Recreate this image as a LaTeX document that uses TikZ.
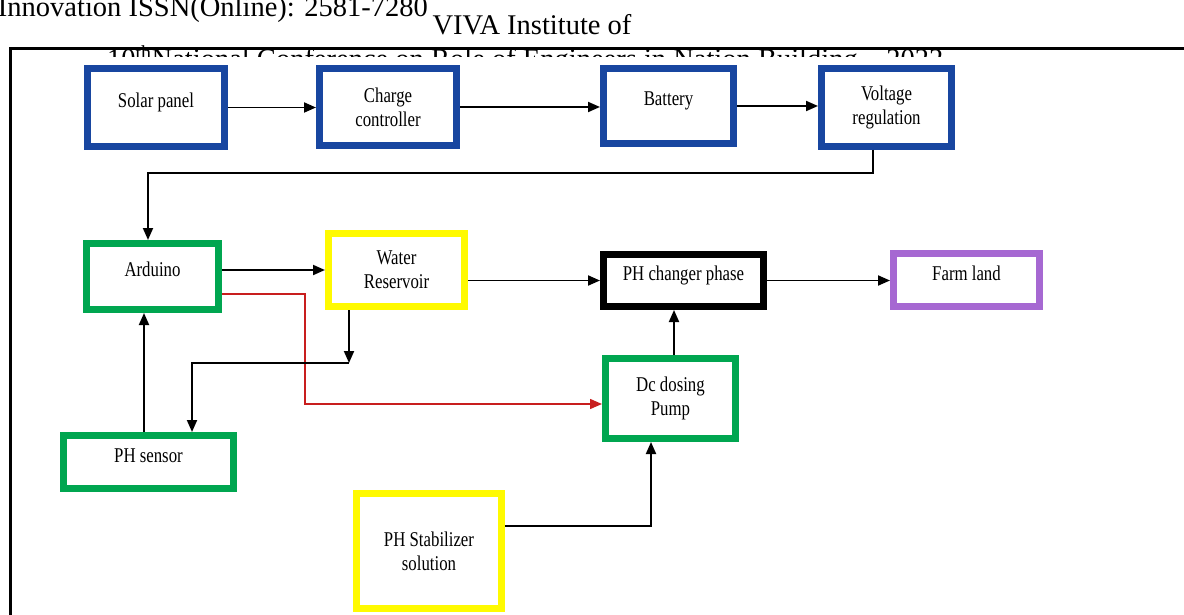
\documentclass[tikz,border=0pt]{standalone}
\usepackage{fontspec}
\setmainfont{Liberation Serif}
\newfontfamily\boxfont[FakeStretch=0.8]{Liberation Serif}
\usetikzlibrary{arrows.meta}
\definecolor{pvblue}{RGB}{24,70,160}
\definecolor{pvgreen}{RGB}{0,166,80}
\definecolor{pvyellow}{RGB}{255,250,0}
\definecolor{pvpurple}{RGB}{166,104,210}
\definecolor{pvred}{RGB}{200,30,30}

\begin{document}
\begin{tikzpicture}[x=1pt, y=-1pt,
  blk/.style={draw, line width=7pt, fill=white, inner sep=0pt,
    font=\boxfont\fontsize{21}{24}\selectfont},
  oneline/.style={text height=15pt, text depth=15pt},
  twoline/.style={align=center},
  arr/.style={-{Triangle[length=12pt,width=10pt]}, line width=1.9pt},
  hdr/.style={font=\fontsize{28.5}{30}\selectfont, inner sep=0pt}]
\useasboundingbox (0,0) rectangle (1184,615);
\clip (0,0) rectangle (1184,615);
% page header
\node[hdr, anchor=base east] (iss) at (428,17) {Innovation ISSN(Online): 2581-7280};
\node[hdr, anchor=base] (viva) at (532,35) {VIVA Institute of};
\begin{scope}
  \clip (12,40) rectangle (1184,57);
  \node[hdr, anchor=base west] (conf) at (107,69)
    {10\textsuperscript{th}National Conference on Role of Engineers in Nation Building – 2022};
\end{scope}
\draw[line width=3pt] (10.5,620) |- (1190,48.5);
% Top row: power supply
\node[blk, oneline, draw=pvblue, minimum width=137pt, minimum height=78pt]
  (sol) at (156,107.5) {Solar panel};
\node[blk, twoline, draw=pvblue, minimum width=137pt, minimum height=77pt]
  (chg) at (388,107) {Charge\\controller};
\node[blk, oneline, draw=pvblue, minimum width=130pt, minimum height=75pt]
  (bat) at (668.5,106) {Battery};
\node[blk, twoline, draw=pvblue, minimum width=130pt, minimum height=78pt]
  (vrg) at (886.5,107.5) {Voltage\\regulation};
% Middle row
\node[blk, oneline, draw=pvgreen, minimum width=132pt, minimum height=66pt]
  (ard) at (152.5,276.5) {Arduino};
\node[blk, twoline, draw=pvyellow, minimum width=136pt, minimum height=73pt]
  (wat) at (396.5,270) {Water\\Reservoir};
\node[blk, oneline, draw=black, minimum width=160pt, minimum height=52pt]
  (phc) at (683.5,280.5) {PH changer phase};
\node[blk, oneline, draw=pvpurple, minimum width=146pt, minimum height=53pt]
  (frm) at (966.5,280) {Farm land};
% Lower part
\node[blk, twoline, draw=pvgreen, minimum width=130pt, minimum height=80pt]
  (pmp) at (670.5,398.5) {Dc dosing\\Pump};
\node[blk, oneline, draw=pvgreen, minimum width=170pt, minimum height=53pt]
  (sns) at (148.5,462) {PH sensor};
\node[blk, twoline, draw=pvyellow, minimum width=145pt, minimum height=115pt]
  (stb) at (429,551) {PH Stabilizer\\solution};
% Connections
\draw[arr] (sol.east) -- (sol.east -| chg.west);
\draw[arr] (chg.east) -- (chg.east -| bat.west);
\draw[arr] (bat.east) -- (bat.east -| vrg.west);
\coordinate (vj) at (148,173);
\draw[arr] ([xshift=-13.5pt]vrg.south) |- (vj) -- (vj |- ard.north);
\draw[arr] (ard.east |- wat.west) -- (wat.west);
\draw[arr] (wat.east |- phc.west) -- (phc.west);
\draw[arr] (phc.east) -- (phc.east -| frm.west);
\coordinate (rj) at (305,404);
\draw[arr, pvred, line width=1.5pt] ([yshift=-17.5pt]ard.east) -| (rj) -- (rj -| pmp.west);
\coordinate (wj) at (349,363);
\draw[arr] (wat.south -| wj) -- (wj);
\draw[arr] (wj) -| ([xshift=43.5pt]sns.north);
\draw[arr] ([xshift=-4.5pt]sns.north) -- ([xshift=-4.5pt]sns.north |- ard.south);
\draw[arr] ([xshift=3.5pt]pmp.north) -- ([xshift=3.5pt]pmp.north |- phc.south);
\draw[arr] ([yshift=25pt]stb.east) -| ([xshift=-19.5pt]pmp.south);
\end{tikzpicture}
\end{document}
